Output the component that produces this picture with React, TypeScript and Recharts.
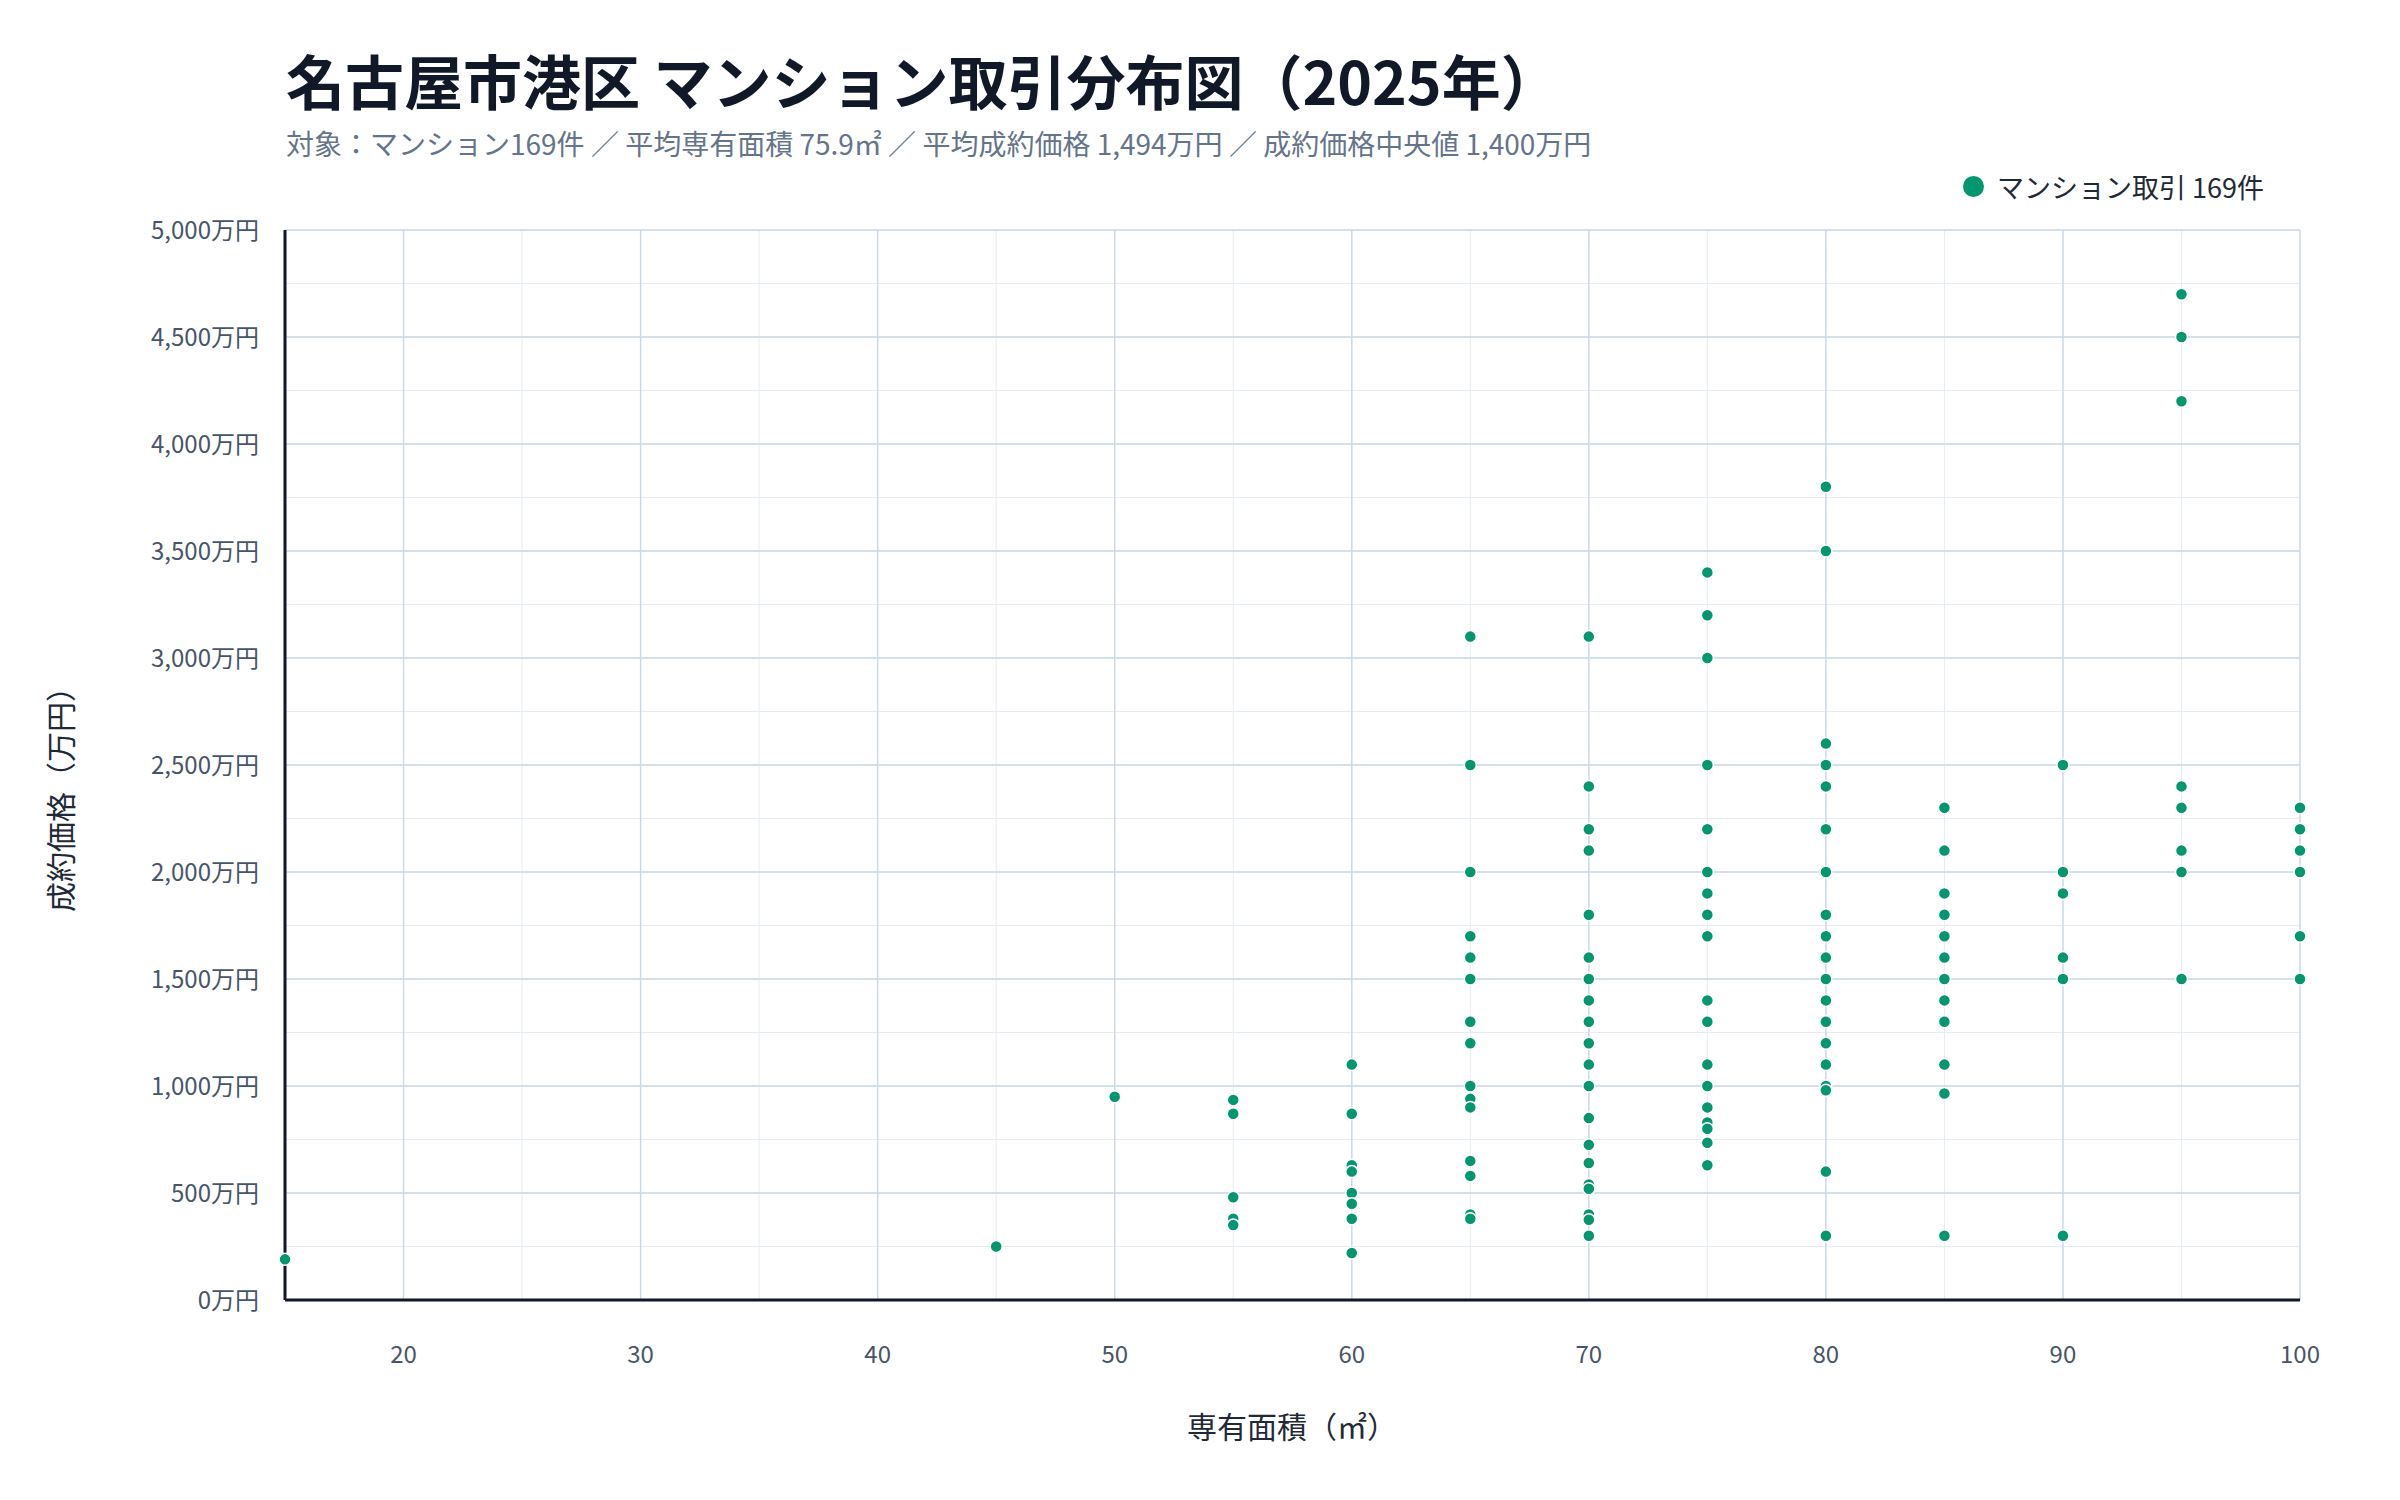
import { ScatterChart, Scatter, XAxis, YAxis, CartesianGrid, ReferenceLine } from 'recharts';

// 専有面積ごとの成約価格（万円）
const areas = [15, 45, 50, 55, 60, 65, 70, 75, 80, 85, 90, 95, 100];
const pricesByArea = [
  [190],
  [250],
  [950],
  [935, 870, 480, 380, 350],
  [1100, 870, 630, 600, 500, 450, 380, 220],
  [3100, 2500, 2000, 1700, 1600, 1500, 1300, 1200, 1000, 940, 900, 650, 580, 400, 380],
  [3100, 2400, 2200, 2100, 1800, 1600, 1500, 1400, 1300, 1200, 1100, 1000, 850, 725, 640, 540, 520, 400, 375, 300],
  [3400, 3200, 3000, 2500, 2200, 2000, 1900, 1800, 1700, 1400, 1300, 1100, 1000, 900, 830, 800, 735, 630],
  [3800, 3500, 2600, 2500, 2400, 2200, 2000, 1800, 1700, 1600, 1500, 1400, 1300, 1200, 1100, 1000, 980, 600, 300],
  [2300, 2100, 1900, 1800, 1700, 1600, 1500, 1400, 1300, 1100, 965, 300],
  [2500, 2000, 1900, 1600, 1500, 300],
  [4700, 4500, 4200, 2400, 2300, 2100, 2000, 1500],
  [2300, 2200, 2100, 2000, 1700, 1500],
];

const xTicks = [15, 20, 25, 30, 35, 40, 45, 50, 55, 60, 65, 70, 75, 80, 85, 90, 95, 100];
const xMajor = [20, 30, 40, 50, 60, 70, 80, 90, 100];
const yTicks = Array.from({ length: 21 }, (_, i) => i * 250);
const yMajor = [500, 1000, 1500, 2000, 2500, 3000, 3500, 4000, 4500, 5000];

const points = areas.flatMap((a, i) => pricesByArea[i].map((p) => ({ area: a, price: p })));

const GREEN = '#03966f';
const FONT = '"Noto Sans CJK JP", "Noto Sans", sans-serif';

const formatYen = (v: number) => (v % 500 === 0 ? `${v.toLocaleString()}万円` : '');
const formatArea = (v: number) => (v % 10 === 0 ? String(v) : '');

const Dot = (props: any) => {
  const { cx, cy } = props;
  return <circle cx={cx} cy={cy} r={6} fill={GREEN} stroke="#ffffff" strokeWidth={1.5} />;
};

export default function App() {
  return (
    <div
      style={{
        position: 'absolute',
        left: 0,
        top: 0,
        width: 2400,
        height: 1500,
        background: '#ffffff',
        fontFamily: FONT,
      }}
    >
      <div
        style={{
          position: 'absolute',
          left: 286,
          top: 50,
          fontSize: 59,
          lineHeight: 1,
          fontWeight: 700,
          color: '#111827',
          whiteSpace: 'nowrap',
        }}
      >
        名古屋市港区 マンション取引分布図（2025年）
      </div>
      <div
        style={{
          position: 'absolute',
          left: 286,
          top: 129,
          fontSize: 28,
          lineHeight: 1,
          color: '#64748b',
          whiteSpace: 'nowrap',
        }}
      >
        対象：マンション169件 ／ 平均専有面積 75.9㎡ ／ 平均成約価格 1,494万円 ／ 成約価格中央値 1,400万円
      </div>

      <div
        style={{
          position: 'absolute',
          left: 1963,
          top: 173,
          display: 'flex',
          alignItems: 'center',
          whiteSpace: 'nowrap',
        }}
      >
        <span
          style={{ display: 'inline-block', width: 21, height: 21, borderRadius: '50%', background: GREEN, marginRight: 13 }}
        />
        <span style={{ fontSize: 27, lineHeight: 1, color: '#1f2937' }}>マンション取引 169件</span>
      </div>

      <div style={{ position: 'absolute', left: 0, top: 0 }}>
        <ScatterChart width={2400} height={1500} margin={{ top: 230, right: 100, bottom: 140, left: 165 }}>
          <CartesianGrid stroke="#e6ecf3" strokeWidth={1} />
          {yMajor.map((v) => (
            <ReferenceLine key={`y${v}`} y={v} stroke="#cdd8e6" strokeWidth={1.4} />
          ))}
          {xMajor.map((v) => (
            <ReferenceLine key={`x${v}`} x={v} stroke="#cdd8e6" strokeWidth={1.4} />
          ))}
          <XAxis
            type="number"
            dataKey="area"
            domain={[15, 100]}
            ticks={xTicks}
            tickFormatter={formatArea}
            interval={0}
            height={60}
            tickLine={false}
            tickSize={0}
            tickMargin={46}
            axisLine={{ stroke: '#111827', strokeWidth: 3 }}
            tick={{ fill: '#475569', fontSize: 24, fontFamily: FONT }}
          />
          <YAxis
            type="number"
            dataKey="price"
            domain={[0, 5000]}
            ticks={yTicks}
            tickFormatter={formatYen}
            interval={0}
            width={120}
            tickLine={false}
            tickSize={0}
            tickMargin={26}
            axisLine={{ stroke: '#111827', strokeWidth: 3 }}
            tick={{ fill: '#475569', fontSize: 24, fontFamily: FONT }}
          />
          <Scatter data={points} fill={GREEN} shape={Dot} isAnimationActive={false} />
        </ScatterChart>
      </div>

      <div
        style={{
          position: 'absolute',
          left: 1292,
          top: 1410,
          transform: 'translateX(-50%)',
          fontSize: 30,
          lineHeight: 1,
          color: '#1f2937',
          whiteSpace: 'nowrap',
        }}
      >
        専有面積（㎡）
      </div>
      <div
        style={{
          position: 'absolute',
          left: 59,
          top: 792,
          transform: 'translate(-50%, -50%) rotate(-90deg)',
          fontSize: 30,
          lineHeight: 1,
          color: '#1f2937',
          whiteSpace: 'nowrap',
        }}
      >
        成約価格（万円）
      </div>
    </div>
  );
}
